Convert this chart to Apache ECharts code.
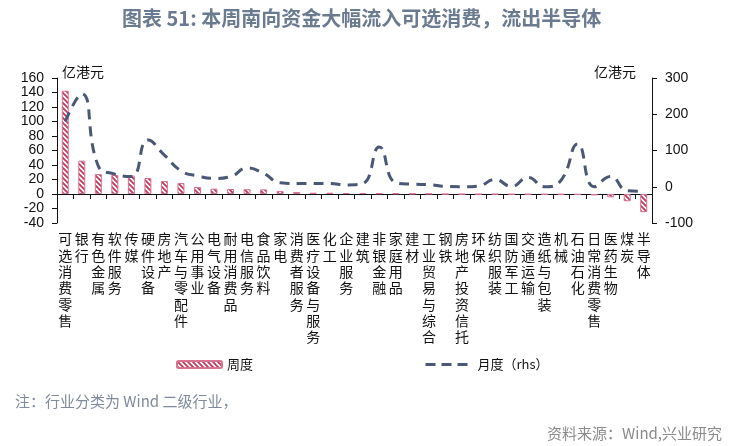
<!DOCTYPE html>
<html>
<head>
<meta charset="utf-8">
<script src="https://cdn.jsdelivr.net/npm/echarts@6/dist/echarts.min.js"></script>
<style>
  html, body { margin: 0; padding: 0; background: #fff; }
  #chart { width: 743px; height: 446px; }
</style>
</head>
<body>
<div id="chart"></div>
<script>
// Categories (Wind level-2 industries)
const categories = ['可选消费零售', '银行', '有色金属', '软件服务', '传媒', '硬件设备', '房地产', '汽车与零配件',
  '公用事业', '电气设备', '耐用消费品', '电信服务', '食品饮料', '家电', '消费者服务', '医疗设备与服务',
  '化工', '企业服务', '建筑', '非银金融', '家庭用品', '建材', '工业贸易与综合', '钢铁',
  '房地产投资信托', '环保', '纺织服装', '国防军工', '交通运输', '造纸与包装', '机械', '石油石化',
  '日常消费零售', '医药生物', '煤炭', '半导体'];

// Weekly net flow (lhs, 亿港元)
const weekly = [142.5, 46, 27.6, 26.2, 25.3, 22, 17.9, 15.2, 9.7, 7.4, 6.9, 6.6,
  6.4, 4.1, 2.8, 1.8, 1.8, 1.4, 1.4, 1.0, 0.8, 0.5, 0.5, -0.3,
  -0.4, -0.5, -0.5, -0.6, -0.7, -0.8, -0.8, -1, -2, -4.6, -10, -25];

// Monthly net flow (rhs, 亿港元)
const monthly = [180, 256, 57, 35, 28, 129, 87, 44, 30, 23, 28, 52,
  37, 11, 9, 9, 9, 5, 9, 110, 11, 7, 6, 1,
  0, 2, 20, 1, 26, 0, 18, 118, 0, 28, -11, -13];

// Axis ranges
const leftRange = [-40, 160, 20];
const rightRange = [-100, 300, 100];

// Striped fill for the weekly bars
function stripePattern() {
  const c = document.createElement('canvas');
  c.width = 5; c.height = 5;
  const ctx = c.getContext('2d');
  ctx.fillStyle = '#ffffff';
  ctx.fillRect(0, 0, 5, 5);
  ctx.strokeStyle = '#c0385c';
  ctx.lineWidth = 1.8;
  ctx.beginPath();
  ctx.moveTo(-1, -1); ctx.lineTo(6, 6);
  ctx.moveTo(-1, 4); ctx.lineTo(1, 6);
  ctx.moveTo(4, -1); ctx.lineTo(6, 1);
  ctx.stroke();
  return c;
}

const chart = echarts.init(document.getElementById('chart'));
const cjk = '"Noto Sans CJK SC", sans-serif';
const num = '"Liberation Sans", Arial, sans-serif';

chart.setOption({
  animation: false,
  backgroundColor: '#fff',
  title: {
    text: '图表 51: 本周南向资金大幅流入可选消费，流出半导体',
    left: 117, top: 3,
    textStyle: { fontFamily: cjk, fontSize: 20, fontWeight: 'bold', color: '#6a7a90' }
  },
  grid: { left: 57, right: 91, top: 78, bottom: 223, containLabel: false },
  legend: [
    {
      data: ['周度'], left: 171, top: 353, itemWidth: 45, itemHeight: 7, itemGap: 6,
      textStyle: { fontFamily: cjk, fontSize: 13, color: '#111' }
    },
    {
      data: ['月度（rhs）'], left: 419, top: 353, itemWidth: 47, itemHeight: 7,
      itemStyle: { opacity: 0 },
      lineStyle: { color: '#4a5775', width: 3, type: [10, 6] },
      textStyle: { fontFamily: cjk, fontSize: 13, color: '#111' }
    }
  ],
  xAxis: {
    type: 'category',
    data: categories,
    axisLine: { onZero: true, onZeroAxisIndex: 0, lineStyle: { color: '#111', width: 1 } },
    axisTick: { show: true, length: 5, alignWithLabel: false, lineStyle: { color: '#111' } },
    axisLabel: {
      interval: 0, margin: 8,
      fontFamily: cjk, fontSize: 14, lineHeight: 16.3, color: '#111',
      formatter: v => v.split('').join('\n')
    }
  },
  yAxis: [
    {
      type: 'value', min: leftRange[0], max: leftRange[1], interval: leftRange[2],
      splitLine: { show: false },
      axisLine: { show: true, lineStyle: { color: '#111' } },
      axisTick: { show: true, length: 5, lineStyle: { color: '#111' } },
      axisLabel: { margin: 13, fontFamily: num, fontSize: 14, color: '#111' }
    },
    {
      type: 'value', min: rightRange[0], max: rightRange[1], interval: rightRange[2],
      splitLine: { show: false },
      axisLine: { show: true, lineStyle: { color: '#111' } },
      axisTick: { show: true, length: 5, lineStyle: { color: '#111' } },
      axisLabel: { margin: 13, fontFamily: num, fontSize: 14, color: '#111' }
    }
  ],
  series: [
    {
      name: '周度',
      type: 'bar',
      yAxisIndex: 0,
      data: weekly,
      barWidth: 7,
      itemStyle: {
        color: { image: stripePattern(), repeat: 'repeat' },
        borderColor: '#d9728e',
        borderWidth: 1
      }
    },
    {
      name: '月度（rhs）',
      type: 'line',
      yAxisIndex: 1,
      data: monthly,
      smooth: true,
      symbol: 'none',
      lineStyle: { color: '#4a5775', width: 3, type: [10, 7] },
      itemStyle: { color: '#4a5775' }
    }
  ],
  graphic: [
    { type: 'text', left: 62, top: 65,
      style: { text: '亿港元', font: '14px ' + cjk, fill: '#111' } },
    { type: 'text', left: 594, top: 65,
      style: { text: '亿港元', font: '14px ' + cjk, fill: '#111' } },
    { type: 'text', left: 15, top: 394,
      style: { text: '注：行业分类为 Wind 二级行业，', font: '15px ' + cjk, fill: '#7f8a9c' } },
    { type: 'text', right: 21, top: 426,
      style: { text: '资料来源：Wind,兴业研究', font: '15px ' + cjk, fill: '#8a8a8a' } }
  ]
});
</script>
</body>
</html>
